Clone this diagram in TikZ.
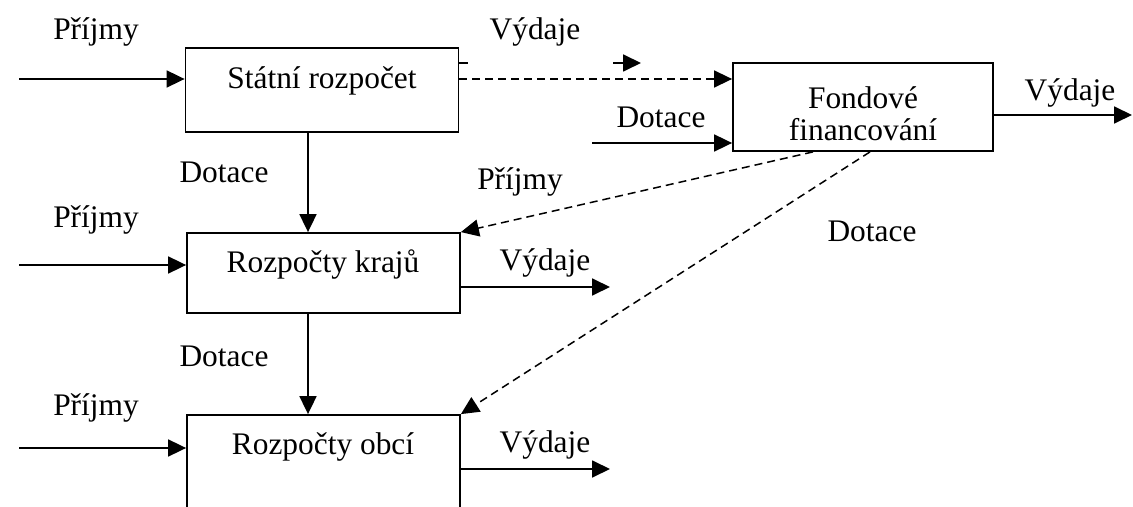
\documentclass[tikz,border=0pt]{standalone}
\usepackage{fontspec}
\setmainfont{Liberation Serif}
\usetikzlibrary{arrows.meta}
\usetikzlibrary{positioning}
\tikzset{>={Triangle[length=9pt,width=8.5pt]}}
\tikzstyle{budget} = [rectangle, draw, line width=0.9pt, inner sep=0]
\tikzstyle{flow} = [->, line width=0.9pt]
\tikzstyle{fund} = [->, line width=0.75pt, dash pattern=on 4pt off 2.5pt]
\tikzstyle{lbl} = [draw=none, inner sep=0]

\begin{document}
\begin{tikzpicture}[x=0.5pt, y=-0.5pt, font=\fontsize{15.7}{16}\selectfont]
\useasboundingbox (0,0) rectangle (1133,507);
\clip (0,0) rectangle (1133,507);
% boxes
\node [budget, minimum width=136.5pt, minimum height=42pt] (S) at (322,90) {};
\node [budget, minimum width=136.5pt, minimum height=40pt] (K) at (323.5,273) {};
\node [budget, minimum width=136.5pt, minimum height=60pt] (O) at (323.5,475) {};
\node [budget, minimum width=130pt, minimum height=44pt] (F) at (863,107) {};
\node [lbl] (St) at (322,81) {Státní rozpočet};
\node [lbl] (Kt) at (323,265) {Rozpočty krajů};
\node [lbl] (Ot) at (323,447) {Rozpočty obcí};
\node [lbl, align=center] (Ft) at (863,114) {Fondové\\financování};
% free ends
\coordinate (v) at (308,0);
\coordinate (s1) at (19,79);
\coordinate (k1) at (19,265);
\coordinate (o1) at (19,448);
\coordinate (f1) at (592,143);
\coordinate (f2) at (1132,115);
\coordinate (k2) at (610,287);
\coordinate (o2) at (610,469);
\coordinate (x1) at (468,63);
\coordinate (x2) at (613,63);
\coordinate (x3) at (641,63);
% labels
\node [lbl] (P1) at (96,32) {Příjmy};
\node [lbl] (P2) at (96,220) {Příjmy};
\node [lbl] (P3) at (96,408) {Příjmy};
\node [lbl] (D1) at (224,172) {Dotace};
\node [lbl] (D2) at (224,356) {Dotace};
\node [lbl] (D3) at (661,117) {Dotace};
\node [lbl] (D4) at (872,231) {Dotace};
\node [lbl] (V1) at (535,32) {Výdaje};
\node [lbl] (V2) at (1070,93) {Výdaje};
\node [lbl] (V3) at (545,263) {Výdaje};
\node [lbl] (V4) at (545,445) {Výdaje};
\node [lbl] (P4) at (520,182) {Příjmy};
% connectors
\draw [flow] (s1) -- (s1 -| S.west);
\draw [flow] (k1) -- (k1 -| K.west);
\draw [flow] (o1) -- (o1 -| O.west);
\draw [flow] (S.south -| v) -- (K.north -| v);
\draw [flow] (K.south -| v) -- (O.north -| v);
\draw [flow] (K.east |- k2) -- (k2);
\draw [flow] (O.east |- o2) -- (o2);
\draw [flow] (f1) -- (f1 -| F.west);
\draw [flow] (F.east |- f2) -- (f2);
\draw [line width=0.9pt] (S.east |- x1) -- (x1);
\draw [flow] (x2) -- (x3);
\draw [fund] (S.east |- 0,79) -- (F.west |- 0,79);
\draw [fund] (F.south -| 813,0) -- (K.north east);
\draw [fund] (F.south -| 870,0) -- (O.north east);
\end{tikzpicture}
\end{document}
